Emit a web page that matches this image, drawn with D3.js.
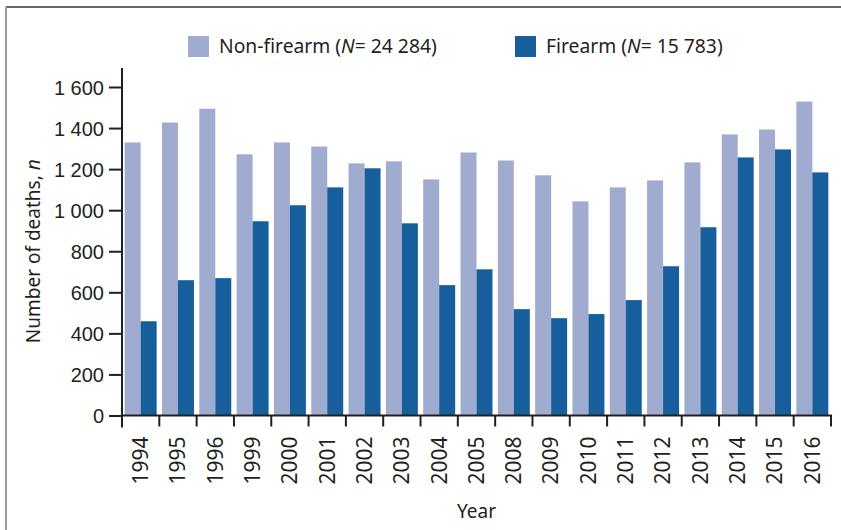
<!DOCTYPE html>
<html>
<head>
<meta charset="utf-8">
<script src="https://cdn.jsdelivr.net/npm/d3@7"></script>
<style>
  html, body { margin: 0; padding: 0; background: #fff; }
  svg { display: block; font-family: "Noto Sans", "Open Sans", sans-serif; }
</style>
</head>
<body>
<svg id="chart" width="841" height="530"></svg>
<script>
const years = ["1994","1995","1996","1999","2000","2001","2002","2003","2004","2005","2008","2009","2010","2011","2012","2013","2014","2015","2016"];
const nonFirearm = [1330,1427,1494,1272,1330,1310,1228,1238,1150,1281,1242,1170,1043,1111,1145,1233,1369,1393,1529];
const firearm = [459,659,669,946,1024,1111,1204,936,635,712,518,474,494,562,727,917,1257,1296,1184];
const seriesNames = ["Non-firearm", "Firearm"];
const seriesN = ["24 284", "15 783"];
const yTicks = [0,200,400,600,800,1000,1200,1400,1600];
const colors = ["#a0accf", "#175e9c"];

const svg = d3.select("#chart");
const ink = "#231f20";

// frame
svg.append("line").attr("x1", 6).attr("x2", 841).attr("y1", 7).attr("y2", 7)
  .attr("stroke", "#333").attr("stroke-width", 1.6);
svg.append("line").attr("x1", 6).attr("x2", 6).attr("y1", 7).attr("y2", 530)
  .attr("stroke", "#9a9a9a").attr("stroke-width", 2);

const x0 = 122, x1 = 831, yBase = 415.5, yTopTick = 87, yAxisTop = 68;
const x = d3.scaleBand().domain(years).range([x0, x1]).padding(0);
const sub = d3.scaleBand().domain(seriesNames).range([0, x.bandwidth()]).paddingInner(0).paddingOuter(0.1667);
const y = d3.scaleLinear().domain([0, 1600]).range([yBase, yTopTick]);

// bars
const data = years.map((yr, i) => ({ yr, vals: [nonFirearm[i], firearm[i]] }));
const g = svg.append("g");
data.forEach(d => {
  d.vals.forEach((v, j) => {
    g.append("rect")
      .attr("x", x(d.yr) + sub(seriesNames[j]))
      .attr("y", y(v))
      .attr("width", sub.bandwidth())
      .attr("height", yBase - y(v))
      .attr("fill", colors[j]);
  });
});

// y axis
const fmt = d3.formatLocale({ decimal: ".", thousands: " ", grouping: [3], currency: ["", ""] }).format(",");
const yAxis = d3.axisLeft(y).tickValues(yTicks).tickFormat(fmt).tickSize(13).tickPadding(5);
const gy = svg.append("g").attr("transform", `translate(${x0},0)`).call(yAxis);
gy.select(".domain").remove();
gy.selectAll(".tick line").attr("stroke", ink).attr("stroke-width", 2);
gy.selectAll(".tick text").attr("fill", ink).style("font-size", "20px").attr("dy", "0.35em");
svg.append("line").attr("x1", x0).attr("x2", x0).attr("y1", yAxisTop).attr("y2", yBase + 12)
  .attr("stroke", ink).attr("stroke-width", 2);

// x axis baseline + boundary ticks
svg.append("line").attr("x1", x0).attr("x2", x1 + 1).attr("y1", yBase).attr("y2", yBase)
  .attr("stroke", ink).attr("stroke-width", 2);
const bounds = years.map(yr => x(yr)).concat([x1]);
svg.append("g").selectAll("line").data(bounds.slice(1)).join("line")
  .attr("x1", d => d).attr("x2", d => d).attr("y1", yBase).attr("y2", yBase + 11)
  .attr("stroke", ink).attr("stroke-width", 2);

// x labels
svg.append("g").selectAll("text").data(years).join("text")
  .attr("transform", d => `translate(${x(d) + x.bandwidth() / 2},${yBase + 21}) rotate(-90)`)
  .attr("text-anchor", "end").attr("dy", "0.35em")
  .attr("fill", ink).style("font-size", "21px").text(d => d);

// axis titles
svg.append("text").attr("transform", `translate(40,${(yBase + yTopTick) / 2}) rotate(-90)`)
  .attr("text-anchor", "middle").attr("fill", ink).style("font-size", "19px")
  .call(t => { t.append("tspan").text("Number of deaths, "); t.append("tspan").style("font-style", "italic").text("n"); });
svg.append("text").attr("x", (x0 + x1) / 2).attr("y", 518).attr("text-anchor", "middle")
  .attr("fill", ink).style("font-size", "19px").text("Year");

// legend
const legX = [188, 515];
seriesNames.forEach((name, i) => {
  const lg = svg.append("g").attr("transform", `translate(${legX[i]},36)`);
  lg.append("rect").attr("width", 21).attr("height", 21).attr("fill", colors[i]);
  const t = lg.append("text").attr("x", 31).attr("y", 17).attr("fill", ink).style("font-size", "19.3px");
  t.append("tspan").text(name + " (");
  t.append("tspan").style("font-style", "italic").text("N");
  t.append("tspan").text("= " + seriesN[i] + ")");
});
</script>
</body>
</html>
